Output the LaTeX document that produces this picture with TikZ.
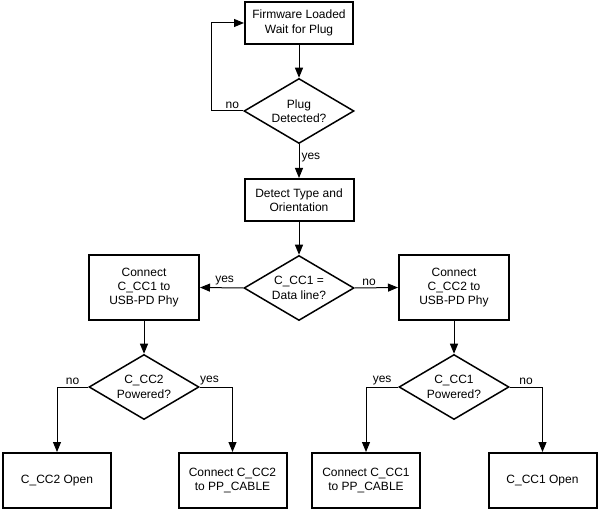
\documentclass[tikz,border=0pt]{standalone}
\usepackage{fontspec}
\setmainfont{Liberation Sans}
\usetikzlibrary{shapes.geometric,arrows.meta}

\begin{document}
\begin{tikzpicture}[x=1pt,y=-1pt,
		font=\fontsize{12}{14.4}\selectfont,
		stepbox/.style={draw,line width=2pt,align=center,inner sep=0pt,minimum width=108pt,minimum height=42pt},
		decision/.style={draw,diamond,aspect=1.7,line width=1.5pt,align=center,inner sep=0pt,minimum width=110pt,minimum height=65pt},
		flow/.style={line width=1pt,-{Triangle[length=10pt,width=8pt]}},
		lbl/.style={inner sep=2pt}]
		\useasboundingbox (0,0) rectangle (599,510);
		% main column
		\node[stepbox] (firmware) at (299,23) {Firmware Loaded\\Wait for Plug};
		\node[decision] (plug) at (299,111) {Plug\\Detected?};
		\node[stepbox,minimum width=109pt] (detect) at (299,200) {Detect Type and\\Orientation};
		\node[decision] (dataline) at (299,288) {C\_CC1 =\\Data line?};
		% branches
		\node[stepbox,minimum width=110pt,minimum height=65pt] (phyone) at (144,287.5) {Connect\\C\_CC1 to\\USB-PD Phy};
		\node[stepbox,minimum width=110pt,minimum height=65pt] (phytwo) at (454,287.5) {Connect\\C\_CC2 to\\USB-PD Phy};
		\node[decision] (powtwo) at (144,387) {C\_CC2\\Powered?};
		\node[decision] (powone) at (454,387) {C\_CC1\\Powered?};
		\node[stepbox,minimum height=55pt] (opentwo) at (57,480.5) {C\_CC2 Open};
		\node[stepbox,minimum height=55pt] (cabletwo) at (232.5,480.5) {Connect C\_CC2\\to PP\_CABLE};
		\node[stepbox,minimum height=55pt] (cableone) at (366,480.5) {Connect C\_CC1\\to PP\_CABLE};
		\node[stepbox,minimum height=55pt] (openone) at (542.5,480.5) {C\_CC1 Open};
		% connectors
		\draw[flow] (firmware) -- (plug);
		\draw[flow] (plug.west) -- node[lbl,above,pos=0.34]{no} ++(-32,0) |- (firmware.west);
		\draw[flow] (plug) -- node[lbl,right,pos=0.38]{yes} (detect);
		\draw[flow] (detect) -- (dataline);
		\draw[flow] (dataline.west) -- node[lbl,above,pos=0.43]{yes} (phyone.east);
		\draw[flow] (dataline.east) -- node[lbl,above,pos=0.33]{no} (phytwo.west);
		\draw[flow] (phyone) -- (powtwo);
		\draw[flow] (phytwo) -- (powone);
		\draw[flow] (powtwo.west) -| node[lbl,above,pos=0.25]{no} (opentwo.north);
		\draw[flow] (powtwo.east) -| node[lbl,above,pos=0.15]{yes} (cabletwo.north);
		\draw[flow] (powone.west) -| node[lbl,above,pos=0.25]{yes} (cableone.north);
		\draw[flow] (powone.east) -| node[lbl,above,pos=0.25]{no} (openone.north);
\end{tikzpicture}
\end{document}
